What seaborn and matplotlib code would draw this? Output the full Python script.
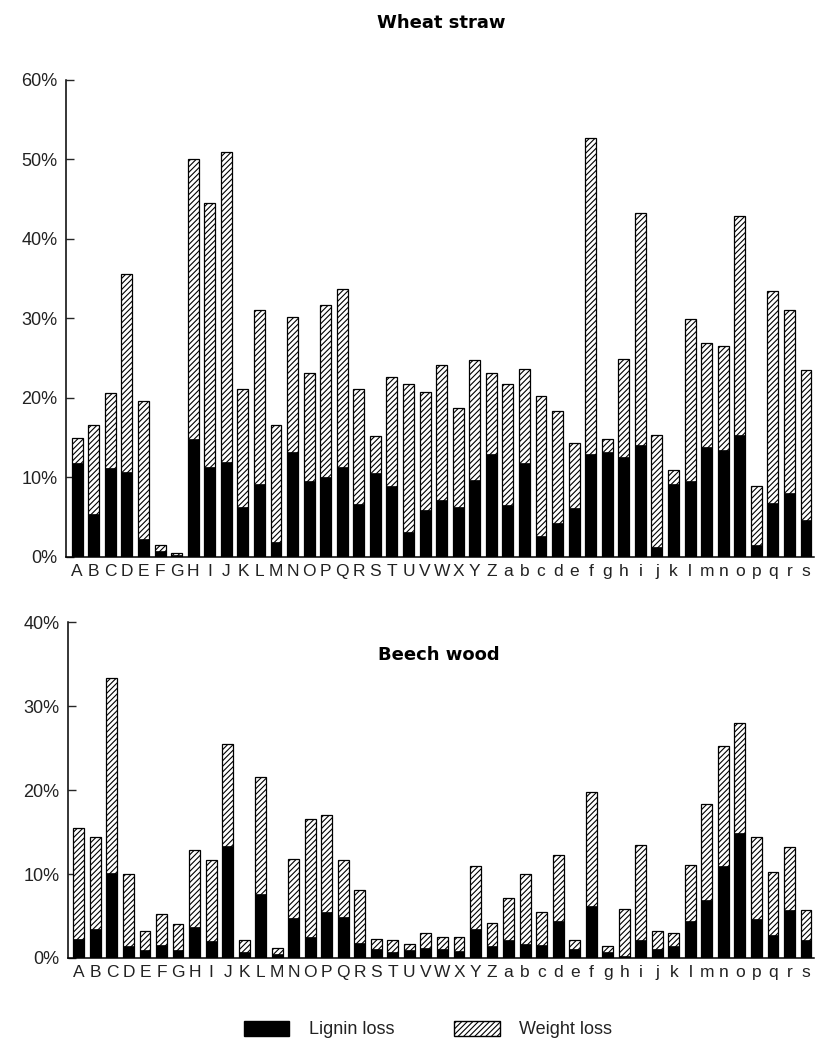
import matplotlib
matplotlib.use("Agg")
import matplotlib.pyplot as plt
from matplotlib.patches import Patch
import seaborn as sns

# Sample codes along the x axis
labels = list("ABCDEFGHIJKLMNOPQRSTUVWXYZ") + list("abcdefghijklmnopqrs")

# Wheat straw (% loss)
wheat_weight = [15.0, 16.6, 20.6, 35.6, 19.6, 1.5, 0.5, 50.1, 44.5, 51.0,
                21.1, 31.1, 16.6, 30.2, 23.2, 31.7, 33.7, 21.1, 15.2, 22.7,
                21.7, 20.8, 24.2, 18.8, 24.8, 23.2, 21.8, 23.7, 20.2, 18.3,
                14.3, 52.7, 14.9, 24.9, 43.3, 15.4, 10.9, 29.9, 26.9, 26.5,
                42.9, 8.9, 33.5, 31.1, 23.5]
wheat_lignin = [11.8, 5.4, 11.2, 10.7, 2.3, 0.7, 0.3, 14.8, 11.3, 12.0,
                6.3, 9.2, 1.9, 13.2, 9.5, 10.1, 11.3, 6.7, 10.6, 8.9,
                3.2, 5.9, 7.2, 6.3, 9.7, 13.0, 6.5, 11.8, 2.6, 4.3,
                6.1, 12.9, 13.2, 12.6, 14.1, 1.2, 9.2, 9.5, 13.8, 13.4,
                15.3, 1.5, 6.8, 8.0, 4.6]

# Beech wood (% loss)
beech_weight = [15.5, 14.4, 33.3, 10.0, 3.2, 5.2, 4.0, 12.8, 11.7, 25.5,
                2.1, 21.6, 1.2, 11.8, 16.5, 17.0, 11.7, 8.1, 2.3, 2.1,
                1.7, 3.0, 2.5, 2.5, 11.0, 4.2, 7.1, 10.0, 5.5, 12.3,
                2.1, 19.8, 1.4, 5.8, 13.4, 3.2, 3.0, 11.1, 18.3, 25.2,
                28.0, 14.4, 10.2, 13.2, 5.7]
beech_lignin = [2.3, 3.5, 10.1, 1.4, 1.0, 1.5, 0.9, 3.7, 2.0, 13.3,
                0.7, 7.6, 0.5, 4.8, 2.5, 5.5, 4.9, 1.8, 1.1, 0.7,
                0.9, 1.2, 1.1, 0.8, 3.4, 1.4, 2.2, 1.7, 1.5, 4.4,
                1.1, 6.2, 0.7, 0.2, 2.2, 1.1, 1.4, 4.4, 6.9, 10.9,
                14.9, 4.7, 2.7, 5.7, 2.1]

sns.set_style("ticks")
plt.rcParams["font.family"] = ["Liberation Sans", "DejaVu Sans"]
plt.rcParams["hatch.linewidth"] = 0.8
plt.rcParams["text.color"] = "black"

fig = plt.figure(figsize=(8.16, 10.43), dpi=100)
ax1 = fig.add_axes([0.0809, 0.466, 0.9166, 0.4573])
ax2 = fig.add_axes([0.0829, 0.0815, 0.9146, 0.3221])

HATCH = "//////"
W = 0.66


def panel(ax, weight, lignin, ymax, step):
    # weight loss drawn first (hatched), lignin loss overlaid in black
    sns.barplot(x=labels, y=weight, color="white", edgecolor="black",
                hatch=HATCH, linewidth=0.9, width=W, saturation=1, ax=ax)
    sns.barplot(x=labels, y=lignin, color="black", edgecolor="black",
                linewidth=0.5, width=W, saturation=1, ax=ax)
    ax.set_xlim(-0.68, 44.48)
    ax.set_ylim(0, ymax)
    ticks = list(range(0, ymax + 1, step))
    ax.set_yticks(ticks)
    ax.set_yticklabels([f"{t}%" for t in ticks], fontsize=13, color="#222222")
    ax.tick_params(axis="y", direction="in", length=6, width=1, pad=6)
    ax.tick_params(axis="x", length=0, labelsize=12.5, pad=5,
                   labelcolor="#222222")
    sns.despine(ax=ax)
    for s in ("left", "bottom"):
        ax.spines[s].set_linewidth(1.1)
        ax.spines[s].set_color("black")


panel(ax1, wheat_weight, wheat_lignin, 60, 10)
panel(ax2, beech_weight, beech_lignin, 40, 10)

title_font = dict(fontsize=13, fontweight="bold", family="DejaVu Sans",
                  color="black")
fig.text(0.541, 0.978, "Wheat straw", ha="center", va="center", **title_font)
fig.text(0.538, 0.372, "Beech wood", ha="center", va="center", **title_font)

handles = [Patch(facecolor="black", edgecolor="black", label="Lignin loss"),
           Patch(facecolor="white", edgecolor="black", hatch=HATCH,
                 label="Weight loss")]
leg = fig.legend(handles=handles, loc="center", bbox_to_anchor=(0.525, 0.013),
                 ncol=2, frameon=False, fontsize=13, handlelength=2.5,
                 handleheight=0.9, columnspacing=3.3, handletextpad=1.1)
for t in leg.get_texts():
    t.set_color("#222222")

fig.savefig("out.png", dpi=100)
